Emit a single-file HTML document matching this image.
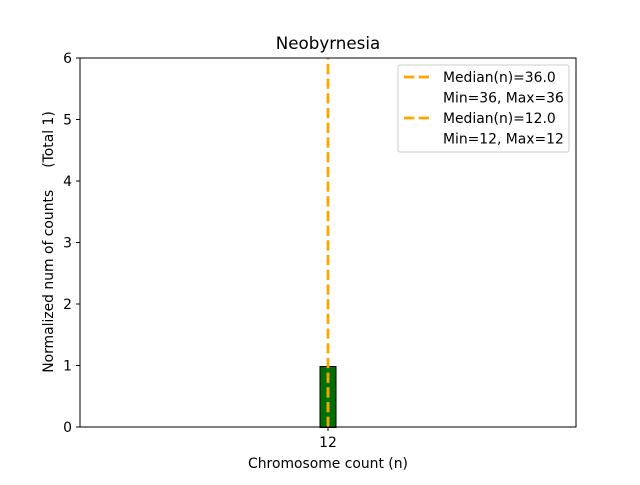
<!DOCTYPE html>
<html><head><meta charset="utf-8"><style>body{margin:0;background:#fff}</style></head><body>
<svg width="640" height="480" xmlns="http://www.w3.org/2000/svg" font-family="DejaVu Sans, Liberation Sans, sans-serif" font-size="13.9px">
<rect width="640" height="480" fill="#fff"/>
<rect x="320" y="366.5" width="16" height="61" fill="#007000" stroke="#000" stroke-width="1"/>
<line x1="328" y1="427" x2="328" y2="58" stroke="#ffa500" stroke-width="2.8" stroke-dasharray="10.3,4.4"/>
<rect x="80" y="58" width="496" height="369" fill="none" stroke="#000" stroke-width="1"/>
<g stroke="#000">
<line x1="76" y1="427" x2="80" y2="427"/><line x1="76" y1="365.5" x2="80" y2="365.5"/><line x1="76" y1="304" x2="80" y2="304"/><line x1="76" y1="242.5" x2="80" y2="242.5"/><line x1="76" y1="181" x2="80" y2="181"/><line x1="76" y1="119.5" x2="80" y2="119.5"/><line x1="76" y1="58" x2="80" y2="58"/>
<line x1="328" y1="427" x2="328" y2="431"/>
</g>
<g text-anchor="end">
<text x="72" y="432">0</text><text x="72" y="370.5">1</text><text x="72" y="309">2</text><text x="72" y="247.5">3</text><text x="72" y="186">4</text><text x="72" y="124.5">5</text><text x="72" y="63">6</text>
</g>
<text x="328" y="447" text-anchor="middle">12</text>
<text x="328" y="468" text-anchor="middle">Chromosome count (n)</text>
<text x="328" y="49" text-anchor="middle" font-size="16.7px">Neobyrnesia</text>
<text transform="translate(53,242) rotate(-90)" text-anchor="middle" xml:space="preserve">Normalized num of counts     (Total 1)</text>
<rect x="398" y="65" width="171" height="87" rx="2" fill="#fff" fill-opacity="0.8" stroke="#ccc"/>
<line x1="404" y1="77" x2="432" y2="77" stroke="#ffa500" stroke-width="2.8" stroke-dasharray="10.3,4.4"/>
<line x1="404" y1="118" x2="432" y2="118" stroke="#ffa500" stroke-width="2.8" stroke-dasharray="10.3,4.4"/>
<g>
<text x="443" y="82">Median(n)=36.0</text>
<text x="443" y="102.5">Min=36, Max=36</text>
<text x="443" y="123">Median(n)=12.0</text>
<text x="443" y="143.5">Min=12, Max=12</text>
</g>
</svg>
</body></html>
